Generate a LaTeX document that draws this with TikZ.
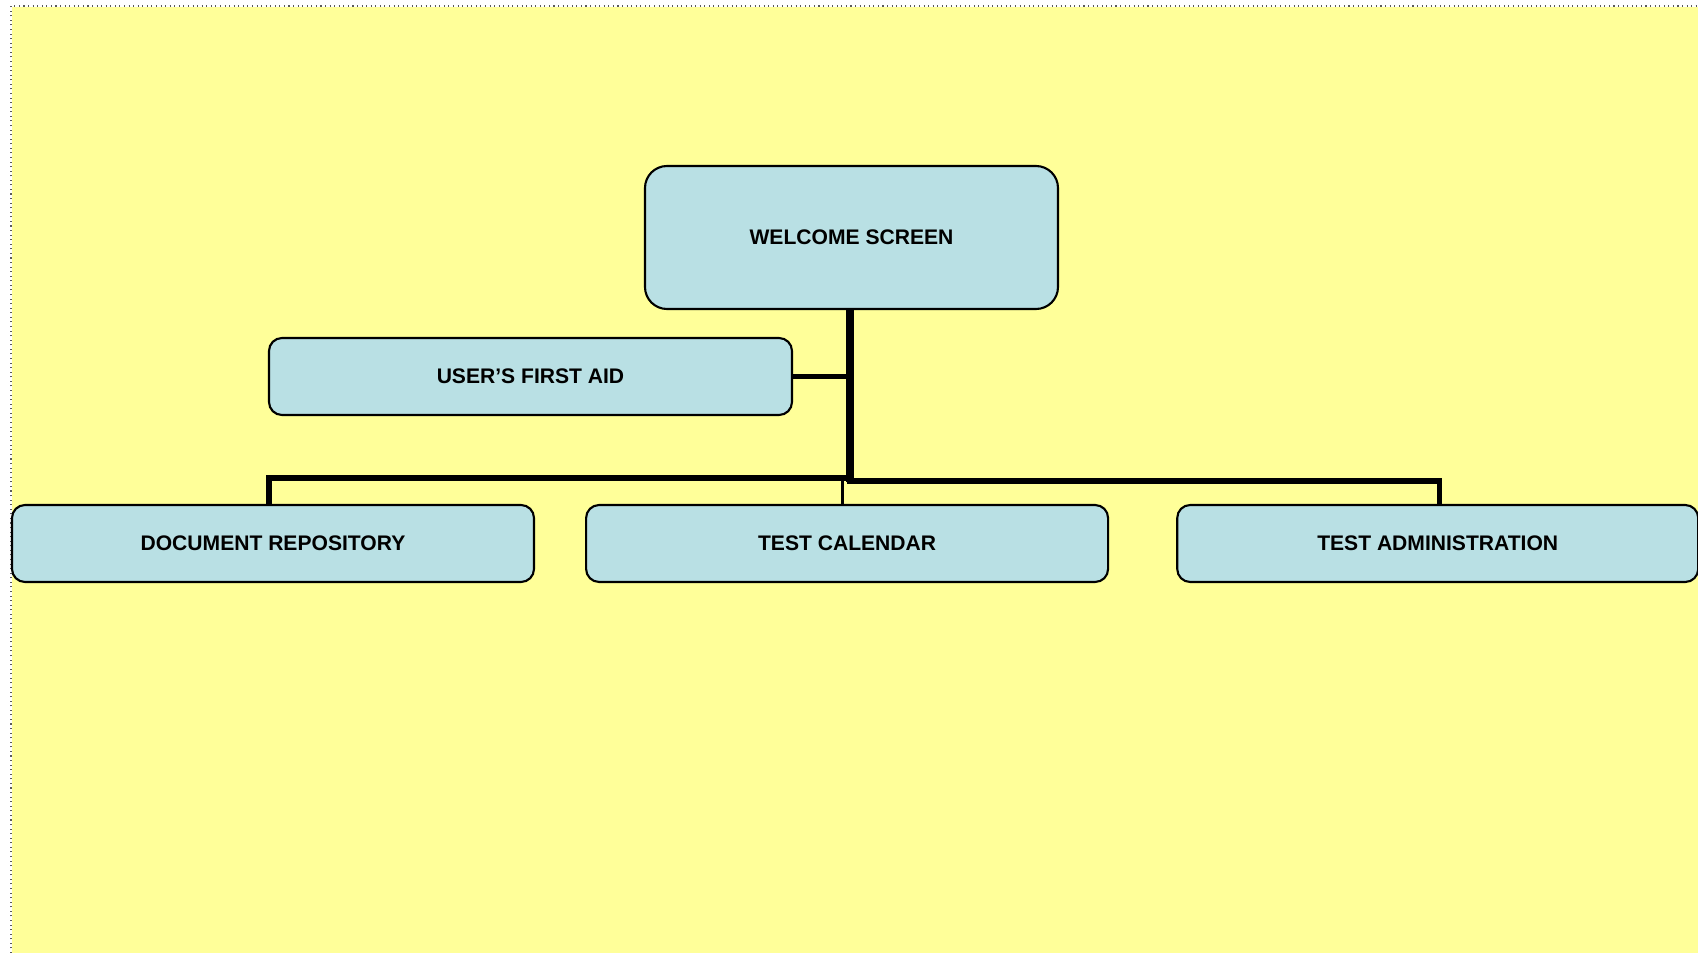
\documentclass[tikz,border=0pt]{standalone}
\usepackage{fontspec}
\setmainfont{Liberation Sans}
\usepackage{xcolor}
\usepackage{tikz}
\usetikzlibrary{calc, positioning}
\definecolor{paper}{RGB}{255,255,153}
\definecolor{boxblue}{RGB}{185,224,228}
\tikzset{
    screen/.style={rectangle, draw=black, line width=1.2pt, fill=boxblue, rounded corners=0.26cm, align=center, minimum width=10.44cm, minimum height=1.54cm, inner sep=0pt, font=\fontsize{12}{14}\selectfont\bfseries},
    mainscreen/.style={screen, rounded corners=0.44cm, minimum width=8.26cm, minimum height=2.86cm},
    trunk/.style={line width=4.6pt},
    branch/.style={line width=3pt},
    thinbranch/.style={line width=1.5pt}
}
\begin{document}
\begin{tikzpicture}
        \useasboundingbox (0,0) rectangle (33.96,-19.06);
        \fill[paper] (0.24,-0.14) rectangle (33.96,-19.06);
        \draw[gray!70!black, dotted, line width=0.6pt] (0.22,-19.06) -- (0.22,-0.12) -- (33.96,-0.12);

        \node[mainscreen] (welcome) at (17.03,-4.75) {WELCOME SCREEN};
        \node[screen, minimum width=10.46cm] (firstaid) at (10.61,-7.53) {USER’S FIRST AID};
        \node[screen] (docrep) at (5.46,-10.87) {DOCUMENT REPOSITORY};
        \node[screen, right=1.0cm of docrep] (calendar) {TEST CALENDAR};
        \node[screen, right=1.34cm of calendar, minimum width=10.42cm] (admin) {TEST ADMINISTRATION};

        % Connectors
        \coordinate (bus) at ($(welcome.south)+(-0.03,-3.39)$);
        \draw[branch] ([xshift=-0.08cm]docrep.north) |- ([yshift=0.03cm]bus) -- ([yshift=-0.03cm]bus) -| ([xshift=0.03cm]admin.north);
        \draw[thinbranch] ([xshift=-0.09cm]calendar.north) -- ([xshift=-0.09cm]calendar.north |- bus);
        \draw[branch] (firstaid.east) -- (firstaid.east -| bus);
        \draw[trunk] ([xshift=-0.03cm]welcome.south) -- ([yshift=-0.05cm]bus);
    \end{tikzpicture}
\end{document}
